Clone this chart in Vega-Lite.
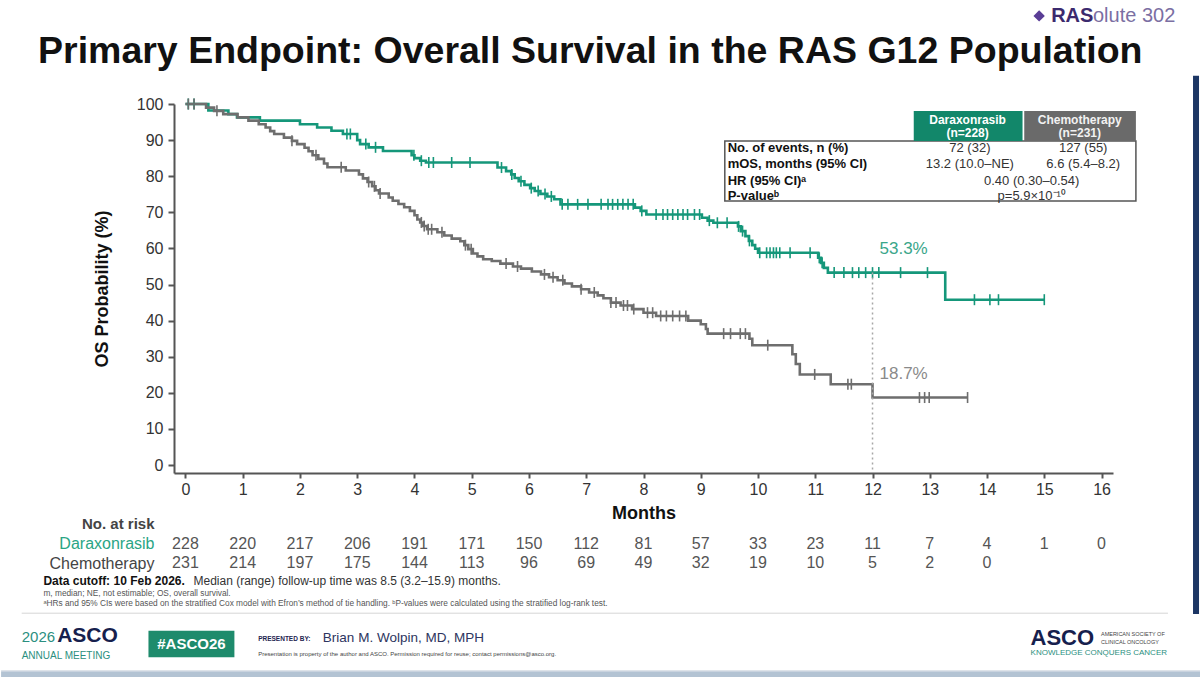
{
  "$schema": "https://vega.github.io/schema/vega-lite/v6.json",
  "background": "white",
  "padding": {"left": 0, "top": 5, "right": 0, "bottom": 0},
  "bounds": "flush",
  "spacing": 41,
  "config": {"font": "Liberation Sans", "view": {"stroke": null}, "text": {"font": "Liberation Sans"}},
  "datasets": {
    "km": [
      {"group": "Daraxonrasib", "month": 0, "surv": 100},
      {"group": "Daraxonrasib", "month": 0.4, "surv": 98.2},
      {"group": "Daraxonrasib", "month": 0.75, "surv": 97.2},
      {"group": "Daraxonrasib", "month": 0.9, "surv": 96.3},
      {"group": "Daraxonrasib", "month": 1.3, "surv": 95.4},
      {"group": "Daraxonrasib", "month": 2.0, "surv": 94.4},
      {"group": "Daraxonrasib", "month": 2.3, "surv": 93.5},
      {"group": "Daraxonrasib", "month": 2.55, "surv": 92.6},
      {"group": "Daraxonrasib", "month": 2.75, "surv": 91.7},
      {"group": "Daraxonrasib", "month": 3.0, "surv": 90.0},
      {"group": "Daraxonrasib", "month": 3.05, "surv": 88.9},
      {"group": "Daraxonrasib", "month": 3.2, "surv": 88.0},
      {"group": "Daraxonrasib", "month": 3.45, "surv": 87.0},
      {"group": "Daraxonrasib", "month": 3.95, "surv": 85.8},
      {"group": "Daraxonrasib", "month": 4.0, "surv": 85.0},
      {"group": "Daraxonrasib", "month": 4.1, "surv": 84.3},
      {"group": "Daraxonrasib", "month": 4.2, "surv": 83.8},
      {"group": "Daraxonrasib", "month": 5.45, "surv": 82.4},
      {"group": "Daraxonrasib", "month": 5.6, "surv": 81.4},
      {"group": "Daraxonrasib", "month": 5.69, "surv": 80.5},
      {"group": "Daraxonrasib", "month": 5.75, "surv": 79.5},
      {"group": "Daraxonrasib", "month": 5.82, "surv": 78.6},
      {"group": "Daraxonrasib", "month": 5.92, "surv": 77.6},
      {"group": "Daraxonrasib", "month": 6.02, "surv": 76.7},
      {"group": "Daraxonrasib", "month": 6.1, "surv": 75.9},
      {"group": "Daraxonrasib", "month": 6.2, "surv": 75.1},
      {"group": "Daraxonrasib", "month": 6.32, "surv": 74.4},
      {"group": "Daraxonrasib", "month": 6.44, "surv": 73.6},
      {"group": "Daraxonrasib", "month": 6.55, "surv": 72.2},
      {"group": "Daraxonrasib", "month": 7.85, "surv": 71.3},
      {"group": "Daraxonrasib", "month": 7.95, "surv": 70.4},
      {"group": "Daraxonrasib", "month": 8.05, "surv": 69.4},
      {"group": "Daraxonrasib", "month": 9.02, "surv": 68.5},
      {"group": "Daraxonrasib", "month": 9.12, "surv": 67.7},
      {"group": "Daraxonrasib", "month": 9.22, "surv": 67.1},
      {"group": "Daraxonrasib", "month": 9.65, "surv": 66.1},
      {"group": "Daraxonrasib", "month": 9.7, "surv": 64.8},
      {"group": "Daraxonrasib", "month": 9.78, "surv": 63.4},
      {"group": "Daraxonrasib", "month": 9.84, "surv": 62.1},
      {"group": "Daraxonrasib", "month": 9.9, "surv": 60.9},
      {"group": "Daraxonrasib", "month": 9.95, "surv": 59.9},
      {"group": "Daraxonrasib", "month": 10.0, "surv": 58.8},
      {"group": "Daraxonrasib", "month": 11.05, "surv": 57.4},
      {"group": "Daraxonrasib", "month": 11.1, "surv": 56.0},
      {"group": "Daraxonrasib", "month": 11.15, "surv": 54.6},
      {"group": "Daraxonrasib", "month": 11.22, "surv": 53.3},
      {"group": "Daraxonrasib", "month": 13.27, "surv": 45.8},
      {"group": "Daraxonrasib", "month": 15.0, "surv": 45.8},
      {"group": "Chemotherapy", "month": 0, "surv": 100},
      {"group": "Chemotherapy", "month": 0.36, "surv": 99.0},
      {"group": "Chemotherapy", "month": 0.5, "surv": 98.1},
      {"group": "Chemotherapy", "month": 0.66, "surv": 97.2},
      {"group": "Chemotherapy", "month": 0.91, "surv": 96.3},
      {"group": "Chemotherapy", "month": 1.1, "surv": 95.4},
      {"group": "Chemotherapy", "month": 1.28, "surv": 94.4},
      {"group": "Chemotherapy", "month": 1.4, "surv": 93.5},
      {"group": "Chemotherapy", "month": 1.48, "surv": 92.5},
      {"group": "Chemotherapy", "month": 1.55, "surv": 91.7},
      {"group": "Chemotherapy", "month": 1.72, "surv": 90.7},
      {"group": "Chemotherapy", "month": 1.86, "surv": 89.8},
      {"group": "Chemotherapy", "month": 1.95, "surv": 88.9},
      {"group": "Chemotherapy", "month": 2.08, "surv": 87.9},
      {"group": "Chemotherapy", "month": 2.15, "surv": 86.9},
      {"group": "Chemotherapy", "month": 2.22, "surv": 85.8},
      {"group": "Chemotherapy", "month": 2.32, "surv": 84.8},
      {"group": "Chemotherapy", "month": 2.42, "surv": 83.5},
      {"group": "Chemotherapy", "month": 2.48, "surv": 82.5},
      {"group": "Chemotherapy", "month": 2.8, "surv": 81.6},
      {"group": "Chemotherapy", "month": 3.03, "surv": 80.5},
      {"group": "Chemotherapy", "month": 3.1, "surv": 79.4},
      {"group": "Chemotherapy", "month": 3.18, "surv": 78.4},
      {"group": "Chemotherapy", "month": 3.26, "surv": 77.2},
      {"group": "Chemotherapy", "month": 3.32, "surv": 76.1},
      {"group": "Chemotherapy", "month": 3.38, "surv": 75.2},
      {"group": "Chemotherapy", "month": 3.55, "surv": 74.1},
      {"group": "Chemotherapy", "month": 3.62, "surv": 73.2},
      {"group": "Chemotherapy", "month": 3.72, "surv": 72.3},
      {"group": "Chemotherapy", "month": 3.82, "surv": 71.4},
      {"group": "Chemotherapy", "month": 3.92, "surv": 70.4},
      {"group": "Chemotherapy", "month": 4.0, "surv": 69.2},
      {"group": "Chemotherapy", "month": 4.05, "surv": 68.0},
      {"group": "Chemotherapy", "month": 4.1, "surv": 67.2},
      {"group": "Chemotherapy", "month": 4.15, "surv": 66.2},
      {"group": "Chemotherapy", "month": 4.22, "surv": 65.3},
      {"group": "Chemotherapy", "month": 4.4, "surv": 64.5},
      {"group": "Chemotherapy", "month": 4.52, "surv": 63.6},
      {"group": "Chemotherapy", "month": 4.65, "surv": 62.7},
      {"group": "Chemotherapy", "month": 4.8, "surv": 62.0},
      {"group": "Chemotherapy", "month": 4.87, "surv": 60.9},
      {"group": "Chemotherapy", "month": 4.94, "surv": 59.8},
      {"group": "Chemotherapy", "month": 5.02, "surv": 58.6},
      {"group": "Chemotherapy", "month": 5.1, "surv": 57.8},
      {"group": "Chemotherapy", "month": 5.2, "surv": 57.0},
      {"group": "Chemotherapy", "month": 5.35, "surv": 56.5},
      {"group": "Chemotherapy", "month": 5.5, "surv": 55.8},
      {"group": "Chemotherapy", "month": 5.72, "surv": 55.0},
      {"group": "Chemotherapy", "month": 5.86, "surv": 54.4},
      {"group": "Chemotherapy", "month": 6.05, "surv": 53.6},
      {"group": "Chemotherapy", "month": 6.21, "surv": 52.8},
      {"group": "Chemotherapy", "month": 6.35, "surv": 52.0},
      {"group": "Chemotherapy", "month": 6.5, "surv": 51.2},
      {"group": "Chemotherapy", "month": 6.62, "surv": 50.3},
      {"group": "Chemotherapy", "month": 6.75, "surv": 49.5},
      {"group": "Chemotherapy", "month": 6.91, "surv": 48.7},
      {"group": "Chemotherapy", "month": 7.05, "surv": 47.8},
      {"group": "Chemotherapy", "month": 7.2, "surv": 47.0},
      {"group": "Chemotherapy", "month": 7.3, "surv": 46.2},
      {"group": "Chemotherapy", "month": 7.43, "surv": 45.0},
      {"group": "Chemotherapy", "month": 7.6, "surv": 44.2},
      {"group": "Chemotherapy", "month": 7.8, "surv": 43.2},
      {"group": "Chemotherapy", "month": 8.0, "surv": 42.2},
      {"group": "Chemotherapy", "month": 8.22, "surv": 41.3},
      {"group": "Chemotherapy", "month": 8.78, "surv": 40.0},
      {"group": "Chemotherapy", "month": 9.0, "surv": 39.0},
      {"group": "Chemotherapy", "month": 9.09, "surv": 37.7},
      {"group": "Chemotherapy", "month": 9.12, "surv": 36.4},
      {"group": "Chemotherapy", "month": 9.85, "surv": 35.0},
      {"group": "Chemotherapy", "month": 9.9, "surv": 33.2},
      {"group": "Chemotherapy", "month": 10.6, "surv": 30.7},
      {"group": "Chemotherapy", "month": 10.66, "surv": 28.0},
      {"group": "Chemotherapy", "month": 10.73, "surv": 25.1},
      {"group": "Chemotherapy", "month": 11.27, "surv": 22.4},
      {"group": "Chemotherapy", "month": 12.0, "surv": 18.7},
      {"group": "Chemotherapy", "month": 13.66, "surv": 18.7}
    ],
    "censor": [
      {"group": "Daraxonrasib", "month": 0.05, "surv": 100},
      {"group": "Daraxonrasib", "month": 0.15, "surv": 100},
      {"group": "Daraxonrasib", "month": 2.82, "surv": 91.7},
      {"group": "Daraxonrasib", "month": 2.88, "surv": 91.7},
      {"group": "Daraxonrasib", "month": 3.15, "surv": 88.9},
      {"group": "Daraxonrasib", "month": 3.32, "surv": 88.0},
      {"group": "Daraxonrasib", "month": 3.99, "surv": 85.8},
      {"group": "Daraxonrasib", "month": 4.12, "surv": 84.3},
      {"group": "Daraxonrasib", "month": 4.25, "surv": 83.8},
      {"group": "Daraxonrasib", "month": 4.33, "surv": 83.8},
      {"group": "Daraxonrasib", "month": 4.65, "surv": 83.8},
      {"group": "Daraxonrasib", "month": 4.97, "surv": 83.8},
      {"group": "Daraxonrasib", "month": 5.52, "surv": 82.4},
      {"group": "Daraxonrasib", "month": 5.7, "surv": 80.5},
      {"group": "Daraxonrasib", "month": 5.86, "surv": 78.6},
      {"group": "Daraxonrasib", "month": 6.04, "surv": 76.7},
      {"group": "Daraxonrasib", "month": 6.16, "surv": 75.9},
      {"group": "Daraxonrasib", "month": 6.28, "surv": 75.1},
      {"group": "Daraxonrasib", "month": 6.39, "surv": 74.4},
      {"group": "Daraxonrasib", "month": 6.58, "surv": 72.2},
      {"group": "Daraxonrasib", "month": 6.68, "surv": 72.2},
      {"group": "Daraxonrasib", "month": 6.85, "surv": 72.2},
      {"group": "Daraxonrasib", "month": 7.03, "surv": 72.2},
      {"group": "Daraxonrasib", "month": 7.26, "surv": 72.2},
      {"group": "Daraxonrasib", "month": 7.38, "surv": 72.2},
      {"group": "Daraxonrasib", "month": 7.46, "surv": 72.2},
      {"group": "Daraxonrasib", "month": 7.55, "surv": 72.2},
      {"group": "Daraxonrasib", "month": 7.64, "surv": 72.2},
      {"group": "Daraxonrasib", "month": 7.73, "surv": 72.2},
      {"group": "Daraxonrasib", "month": 7.82, "surv": 72.2},
      {"group": "Daraxonrasib", "month": 7.97, "surv": 70.4},
      {"group": "Daraxonrasib", "month": 8.22, "surv": 69.4},
      {"group": "Daraxonrasib", "month": 8.34, "surv": 69.4},
      {"group": "Daraxonrasib", "month": 8.42, "surv": 69.4},
      {"group": "Daraxonrasib", "month": 8.51, "surv": 69.4},
      {"group": "Daraxonrasib", "month": 8.6, "surv": 69.4},
      {"group": "Daraxonrasib", "month": 8.69, "surv": 69.4},
      {"group": "Daraxonrasib", "month": 8.77, "surv": 69.4},
      {"group": "Daraxonrasib", "month": 8.89, "surv": 69.4},
      {"group": "Daraxonrasib", "month": 8.98, "surv": 69.4},
      {"group": "Daraxonrasib", "month": 9.15, "surv": 67.7},
      {"group": "Daraxonrasib", "month": 9.29, "surv": 67.1},
      {"group": "Daraxonrasib", "month": 9.46, "surv": 67.1},
      {"group": "Daraxonrasib", "month": 9.66, "surv": 66.1},
      {"group": "Daraxonrasib", "month": 9.73, "surv": 64.8},
      {"group": "Daraxonrasib", "month": 9.85, "surv": 62.1},
      {"group": "Daraxonrasib", "month": 10.03, "surv": 58.8},
      {"group": "Daraxonrasib", "month": 10.15, "surv": 58.8},
      {"group": "Daraxonrasib", "month": 10.21, "surv": 58.8},
      {"group": "Daraxonrasib", "month": 10.27, "surv": 58.8},
      {"group": "Daraxonrasib", "month": 10.32, "surv": 58.8},
      {"group": "Daraxonrasib", "month": 10.38, "surv": 58.8},
      {"group": "Daraxonrasib", "month": 10.56, "surv": 58.8},
      {"group": "Daraxonrasib", "month": 10.91, "surv": 58.8},
      {"group": "Daraxonrasib", "month": 11.07, "surv": 57.4},
      {"group": "Daraxonrasib", "month": 11.12, "surv": 56.0},
      {"group": "Daraxonrasib", "month": 11.33, "surv": 53.3},
      {"group": "Daraxonrasib", "month": 11.5, "surv": 53.3},
      {"group": "Daraxonrasib", "month": 11.65, "surv": 53.3},
      {"group": "Daraxonrasib", "month": 11.76, "surv": 53.3},
      {"group": "Daraxonrasib", "month": 11.88, "surv": 53.3},
      {"group": "Daraxonrasib", "month": 12.0, "surv": 53.3},
      {"group": "Daraxonrasib", "month": 12.11, "surv": 53.3},
      {"group": "Daraxonrasib", "month": 12.49, "surv": 53.3},
      {"group": "Daraxonrasib", "month": 12.96, "surv": 53.3},
      {"group": "Daraxonrasib", "month": 13.78, "surv": 45.8},
      {"group": "Daraxonrasib", "month": 14.05, "surv": 45.8},
      {"group": "Daraxonrasib", "month": 14.2, "surv": 45.8},
      {"group": "Daraxonrasib", "month": 15.0, "surv": 45.8},
      {"group": "Chemotherapy", "month": 0.05, "surv": 100},
      {"group": "Chemotherapy", "month": 0.15, "surv": 100},
      {"group": "Chemotherapy", "month": 0.55, "surv": 98.1},
      {"group": "Chemotherapy", "month": 1.86, "surv": 89.8},
      {"group": "Chemotherapy", "month": 2.28, "surv": 85.8},
      {"group": "Chemotherapy", "month": 2.72, "surv": 82.5},
      {"group": "Chemotherapy", "month": 3.2, "surv": 78.4},
      {"group": "Chemotherapy", "month": 3.3, "surv": 77.2},
      {"group": "Chemotherapy", "month": 3.4, "surv": 75.2},
      {"group": "Chemotherapy", "month": 4.12, "surv": 67.2},
      {"group": "Chemotherapy", "month": 4.17, "surv": 66.2},
      {"group": "Chemotherapy", "month": 4.24, "surv": 65.3},
      {"group": "Chemotherapy", "month": 4.3, "surv": 65.3},
      {"group": "Chemotherapy", "month": 4.48, "surv": 64.5},
      {"group": "Chemotherapy", "month": 4.89, "surv": 60.9},
      {"group": "Chemotherapy", "month": 4.99, "surv": 59.8},
      {"group": "Chemotherapy", "month": 5.6, "surv": 55.8},
      {"group": "Chemotherapy", "month": 5.8, "surv": 55.0},
      {"group": "Chemotherapy", "month": 6.27, "surv": 52.8},
      {"group": "Chemotherapy", "month": 6.42, "surv": 52.0},
      {"group": "Chemotherapy", "month": 6.59, "surv": 51.2},
      {"group": "Chemotherapy", "month": 6.91, "surv": 48.7},
      {"group": "Chemotherapy", "month": 7.14, "surv": 47.8},
      {"group": "Chemotherapy", "month": 7.43, "surv": 45.0},
      {"group": "Chemotherapy", "month": 7.52, "surv": 45.0},
      {"group": "Chemotherapy", "month": 7.65, "surv": 44.2},
      {"group": "Chemotherapy", "month": 7.72, "surv": 44.2},
      {"group": "Chemotherapy", "month": 7.83, "surv": 43.2},
      {"group": "Chemotherapy", "month": 8.07, "surv": 42.2},
      {"group": "Chemotherapy", "month": 8.16, "surv": 42.2},
      {"group": "Chemotherapy", "month": 8.3, "surv": 41.3},
      {"group": "Chemotherapy", "month": 8.4, "surv": 41.3},
      {"group": "Chemotherapy", "month": 8.51, "surv": 41.3},
      {"group": "Chemotherapy", "month": 8.63, "surv": 41.3},
      {"group": "Chemotherapy", "month": 8.74, "surv": 41.3},
      {"group": "Chemotherapy", "month": 9.4, "surv": 36.4},
      {"group": "Chemotherapy", "month": 9.52, "surv": 36.4},
      {"group": "Chemotherapy", "month": 9.69, "surv": 36.4},
      {"group": "Chemotherapy", "month": 9.78, "surv": 36.4},
      {"group": "Chemotherapy", "month": 10.17, "surv": 33.2},
      {"group": "Chemotherapy", "month": 10.99, "surv": 25.1},
      {"group": "Chemotherapy", "month": 11.57, "surv": 22.4},
      {"group": "Chemotherapy", "month": 11.63, "surv": 22.4},
      {"group": "Chemotherapy", "month": 12.82, "surv": 18.7},
      {"group": "Chemotherapy", "month": 12.91, "surv": 18.7},
      {"group": "Chemotherapy", "month": 12.99, "surv": 18.7},
      {"group": "Chemotherapy", "month": 13.66, "surv": 18.7}
    ],
    "landmark": [
      {"group": "Daraxonrasib", "month": 12, "surv": 53.3, "label": "53.3%"},
      {"group": "Chemotherapy", "month": 12, "surv": 18.7, "label": "18.7%"}
    ],
    "arms": [
      {"group": "Daraxonrasib", "n_label": "(n=228)"},
      {"group": "Chemotherapy", "n_label": "(n=231)"}
    ],
    "stats": [
      {"key": "events", "stat": "No. of events, n (%)", "Daraxonrasib": "72 (32)", "Chemotherapy": "127 (55)"},
      {"key": "mos", "stat": "mOS, months (95% CI)", "Daraxonrasib": "13.2 (10.0–NE)", "Chemotherapy": "6.6 (5.4–8.2)"},
      {"key": "hr", "stat": "HR (95% CI)ᵃ", "overall": "0.40 (0.30–0.54)"},
      {"key": "p", "stat": "P-valueᵇ", "overall": "p=5.9×10⁻¹⁰"}
    ],
    "risk": [
      {"group": "Daraxonrasib", "month": 0, "n": 228},
      {"group": "Daraxonrasib", "month": 1, "n": 220},
      {"group": "Daraxonrasib", "month": 2, "n": 217},
      {"group": "Daraxonrasib", "month": 3, "n": 206},
      {"group": "Daraxonrasib", "month": 4, "n": 191},
      {"group": "Daraxonrasib", "month": 5, "n": 171},
      {"group": "Daraxonrasib", "month": 6, "n": 150},
      {"group": "Daraxonrasib", "month": 7, "n": 112},
      {"group": "Daraxonrasib", "month": 8, "n": 81},
      {"group": "Daraxonrasib", "month": 9, "n": 57},
      {"group": "Daraxonrasib", "month": 10, "n": 33},
      {"group": "Daraxonrasib", "month": 11, "n": 23},
      {"group": "Daraxonrasib", "month": 12, "n": 11},
      {"group": "Daraxonrasib", "month": 13, "n": 7},
      {"group": "Daraxonrasib", "month": 14, "n": 4},
      {"group": "Daraxonrasib", "month": 15, "n": 1},
      {"group": "Daraxonrasib", "month": 16, "n": 0},
      {"group": "Chemotherapy", "month": 0, "n": 231},
      {"group": "Chemotherapy", "month": 1, "n": 214},
      {"group": "Chemotherapy", "month": 2, "n": 197},
      {"group": "Chemotherapy", "month": 3, "n": 175},
      {"group": "Chemotherapy", "month": 4, "n": 144},
      {"group": "Chemotherapy", "month": 5, "n": 113},
      {"group": "Chemotherapy", "month": 6, "n": 96},
      {"group": "Chemotherapy", "month": 7, "n": 69},
      {"group": "Chemotherapy", "month": 8, "n": 49},
      {"group": "Chemotherapy", "month": 9, "n": 32},
      {"group": "Chemotherapy", "month": 10, "n": 19},
      {"group": "Chemotherapy", "month": 11, "n": 10},
      {"group": "Chemotherapy", "month": 12, "n": 5},
      {"group": "Chemotherapy", "month": 13, "n": 2},
      {"group": "Chemotherapy", "month": 14, "n": 0}
    ]
  },
  "vconcat": [
    {
      "width": 939,
      "height": 369,
      "layer": [
        {
          "data": {"name": "km"},
          "mark": {"type": "line", "interpolate": "step-after", "strokeWidth": 2.6},
          "encoding": {
            "x": {"field": "month", "type": "quantitative",
              "scale": {"domain": [-0.2, 16.2], "nice": false, "zero": false},
              "axis": {"values": [0,1,2,3,4,5,6,7,8,9,10,11,12,13,14,15,16], "format": "d", "labelOverlap": false, "title": "Months", "titleFontSize": 18, "titleFontWeight": "bold", "titleColor": "#111", "titlePadding": 7, "labelFontSize": 16, "labelColor": "#333", "labelPadding": 3, "tickSize": 5, "tickWidth": 2, "tickColor": "#555", "domainColor": "#555", "domainWidth": 2, "grid": false, "labelFlush": false}},
            "y": {"field": "surv", "type": "quantitative",
              "scale": {"domain": [-2.2, 100], "nice": false, "zero": false},
              "axis": {"values": [0,10,20,30,40,50,60,70,80,90,100], "format": "d", "labelOverlap": false, "tickCount": 11, "title": "OS Probability (%)", "titleFontSize": 18, "titleFontWeight": "bold", "titleColor": "#111", "titlePadding": 25, "labelFontSize": 16, "labelColor": "#333", "labelPadding": 5, "tickSize": 6, "tickWidth": 2, "tickColor": "#555", "domainColor": "#555", "domainWidth": 2, "grid": false}},
            "color": {"field": "group", "type": "nominal", "scale": {"domain": ["Daraxonrasib", "Chemotherapy"], "range": ["#15977a", "#6e6e6e"]}, "legend": null}
          }
        },
        {
          "data": {"name": "censor"},
          "mark": {"type": "tick", "orient": "vertical", "size": 11, "thickness": 1.6, "opacity": 1},
          "encoding": {
            "x": {"field": "month", "type": "quantitative"},
            "y": {"field": "surv", "type": "quantitative"},
            "color": {"field": "group", "type": "nominal", "legend": null}
          }
        },
        {
          "data": {"name": "landmark"},
          "transform": [{"filter": "datum.group === 'Daraxonrasib'"}],
          "mark": {"type": "rule", "strokeDash": [2, 3], "color": "#a8a8a8", "strokeWidth": 1.5},
          "encoding": {
            "x": {"field": "month", "type": "quantitative"},
            "y": {"field": "surv", "type": "quantitative"},
            "y2": {"datum": -2.2}
          }
        },
        {
          "data": {"name": "landmark"},
          "mark": {"type": "text", "align": "left", "baseline": "middle", "dx": 7, "dy": -24, "fontSize": 17},
          "encoding": {
            "x": {"field": "month", "type": "quantitative"},
            "y": {"field": "surv", "type": "quantitative"},
            "text": {"field": "label", "type": "nominal"},
            "color": {"condition": {"test": "datum.group === 'Daraxonrasib'", "value": "#3aa68a"}, "value": "#8a8a8a"}
          }
        },
        {
          "data": {"values": [{}]},
          "mark": {"type": "rect", "fill": "white", "stroke": "#555", "strokeWidth": 1.5},
          "encoding": {"x": {"datum": 9.42, "type": "quantitative"}, "x2": {"datum": 16.6}, "y": {"datum": 89.75, "type": "quantitative"}, "y2": {"datum": 73.13}}
        },
        {
          "data": {"values": [{}]},
          "mark": {"type": "rect", "fill": "#12876a"},
          "encoding": {"x": {"datum": 12.72, "type": "quantitative"}, "x2": {"datum": 14.62}, "y": {"datum": 98.06, "type": "quantitative"}, "y2": {"datum": 89.75}}
        },
        {
          "data": {"values": [{}]},
          "mark": {"type": "rect", "fill": "#6a6a6a"},
          "encoding": {"x": {"datum": 14.65, "type": "quantitative"}, "x2": {"datum": 16.6}, "y": {"datum": 98.06, "type": "quantitative"}, "y2": {"datum": 89.75}}
        },
        {
          "data": {"name": "arms"},
          "transform": [{"filter": "datum.group === 'Daraxonrasib'"}],
          "encoding": {"x": {"datum": 13.66, "type": "quantitative"}},
          "layer": [
            {"mark": {"type": "text", "align": "center", "baseline": "middle", "fontSize": 12, "fontWeight": "bold", "color": "white"}, "encoding": {"y": {"datum": 95.7, "type": "quantitative"}, "text": {"field": "group", "type": "nominal"}}},
            {"mark": {"type": "text", "align": "center", "baseline": "middle", "fontSize": 12, "fontWeight": "bold", "color": "white"}, "encoding": {"y": {"datum": 91.9, "type": "quantitative"}, "text": {"field": "n_label", "type": "nominal"}}}
          ]
        },
        {
          "data": {"name": "arms"},
          "transform": [{"filter": "datum.group === 'Chemotherapy'"}],
          "encoding": {"x": {"datum": 15.62, "type": "quantitative"}},
          "layer": [
            {"mark": {"type": "text", "align": "center", "baseline": "middle", "fontSize": 12, "fontWeight": "bold", "color": "#f2f2f2"}, "encoding": {"y": {"datum": 95.7, "type": "quantitative"}, "text": {"field": "group", "type": "nominal"}}},
            {"mark": {"type": "text", "align": "center", "baseline": "middle", "fontSize": 12, "fontWeight": "bold", "color": "#f2f2f2"}, "encoding": {"y": {"datum": 91.9, "type": "quantitative"}, "text": {"field": "n_label", "type": "nominal"}}}
          ]
        },
        {
          "data": {"name": "stats"},
          "transform": [{"filter": "datum.key === 'events'"}],
          "encoding": {"y": {"datum": 87.9, "type": "quantitative"}},
          "layer": [
            {"mark": {"type": "text", "align": "left", "baseline": "middle", "fontSize": 13, "fontWeight": "bold", "color": "#111"}, "encoding": {"x": {"datum": 9.47, "type": "quantitative"}, "text": {"field": "stat", "type": "nominal"}}},
            {"mark": {"type": "text", "align": "center", "baseline": "middle", "fontSize": 13, "color": "#333"}, "encoding": {"x": {"datum": 13.7, "type": "quantitative"}, "text": {"field": "Daraxonrasib", "type": "nominal"}}},
            {"mark": {"type": "text", "align": "center", "baseline": "middle", "fontSize": 13, "color": "#333"}, "encoding": {"x": {"datum": 15.68, "type": "quantitative"}, "text": {"field": "Chemotherapy", "type": "nominal"}}}
          ]
        },
        {
          "data": {"name": "stats"},
          "transform": [{"filter": "datum.key === 'mos'"}],
          "encoding": {"y": {"datum": 83.3, "type": "quantitative"}},
          "layer": [
            {"mark": {"type": "text", "align": "left", "baseline": "middle", "fontSize": 13, "fontWeight": "bold", "color": "#111"}, "encoding": {"x": {"datum": 9.47, "type": "quantitative"}, "text": {"field": "stat", "type": "nominal"}}},
            {"mark": {"type": "text", "align": "center", "baseline": "middle", "fontSize": 13, "color": "#333"}, "encoding": {"x": {"datum": 13.7, "type": "quantitative"}, "text": {"field": "Daraxonrasib", "type": "nominal"}}},
            {"mark": {"type": "text", "align": "center", "baseline": "middle", "fontSize": 13, "color": "#333"}, "encoding": {"x": {"datum": 15.68, "type": "quantitative"}, "text": {"field": "Chemotherapy", "type": "nominal"}}}
          ]
        },
        {
          "data": {"name": "stats"},
          "transform": [{"filter": "datum.key === 'hr'"}],
          "encoding": {"y": {"datum": 78.7, "type": "quantitative"}},
          "layer": [
            {"mark": {"type": "text", "align": "left", "baseline": "middle", "fontSize": 13, "fontWeight": "bold", "color": "#111"}, "encoding": {"x": {"datum": 9.47, "type": "quantitative"}, "text": {"field": "stat", "type": "nominal"}}},
            {"mark": {"type": "text", "align": "center", "baseline": "middle", "fontSize": 13, "color": "#333"}, "encoding": {"x": {"datum": 14.78, "type": "quantitative"}, "text": {"field": "overall", "type": "nominal"}}}
          ]
        },
        {
          "data": {"name": "stats"},
          "transform": [{"filter": "datum.key === 'p'"}],
          "encoding": {"y": {"datum": 74.5, "type": "quantitative"}},
          "layer": [
            {"mark": {"type": "text", "align": "left", "baseline": "middle", "fontSize": 13, "fontWeight": "bold", "color": "#111"}, "encoding": {"x": {"datum": 9.47, "type": "quantitative"}, "text": {"field": "stat", "type": "nominal"}}},
            {"mark": {"type": "text", "align": "center", "baseline": "middle", "fontSize": 13, "color": "#333"}, "encoding": {"x": {"datum": 14.78, "type": "quantitative"}, "text": {"field": "overall", "type": "nominal"}}}
          ]
        },
        {
          "data": {"values": [{}]},
          "mark": {"type": "text", "align": "center", "baseline": "alphabetic", "fontSize": 37.5, "fontWeight": "bold", "color": "#111"},
          "encoding": {"x": {"datum": 7.07, "type": "quantitative"}, "y": {"datum": 111.4, "type": "quantitative"}, "text": {"value": "Primary Endpoint: Overall Survival in the RAS G12 Population"}}
        },
        {
          "data": {"values": [{}]},
          "mark": {"type": "point", "shape": "diamond", "filled": true, "size": 130, "color": "#5a3d96", "opacity": 1},
          "encoding": {"x": {"datum": 14.91, "type": "quantitative"}, "y": {"datum": 124.4, "type": "quantitative"}}
        },
        {
          "data": {"values": [{}]},
          "mark": {"type": "text", "align": "left", "baseline": "middle", "fontSize": 20, "fontWeight": "bold", "color": "#3b2a6e"},
          "encoding": {"x": {"datum": 15.12, "type": "quantitative"}, "y": {"datum": 124.4, "type": "quantitative"}, "text": {"value": "RAS"}}
        },
        {
          "data": {"values": [{}]},
          "mark": {"type": "text", "align": "left", "baseline": "middle", "fontSize": 20, "color": "#7b6fa3"},
          "encoding": {"x": {"datum": 15.85, "type": "quantitative"}, "y": {"datum": 124.4, "type": "quantitative"}, "text": {"value": "olute 302"}}
        },
        {
          "data": {"values": [{}]},
          "mark": {"type": "rule", "color": "#1c3664", "strokeWidth": 6},
          "encoding": {"x": {"datum": 17.65, "type": "quantitative"}, "y": {"datum": 107.8, "type": "quantitative"}, "y2": {"datum": -41.25}}
        }
      ]
    },
    {
      "width": 939,
      "height": 59,
      "data": {"name": "risk"},
      "mark": {"type": "text", "fontSize": 16, "color": "#555", "baseline": "middle"},
      "encoding": {
        "x": {"field": "month", "type": "quantitative", "scale": {"domain": [-0.2, 16.2], "nice": false, "zero": false}, "axis": null},
        "y": {"field": "group", "type": "nominal",
          "scale": {"type": "point", "domain": ["No. at risk", "Daraxonrasib", "Chemotherapy"], "padding": 0.5},
          "axis": {"title": null, "domain": false, "ticks": false, "labelPadding": 20,
            "labelFontSize": {"condition": {"test": "datum.value === 'No. at risk'", "value": 15}, "value": 16},
            "labelFontWeight": {"condition": {"test": "datum.value === 'No. at risk'", "value": "bold"}, "value": "normal"},
            "labelColor": {"condition": {"test": "datum.value === 'Daraxonrasib'", "value": "#2aa585"}, "value": "#444"}}},
        "text": {"field": "n", "type": "quantitative"}
      }
    },
    {
      "width": 939,
      "height": 64,
      "data": {"values": [{}]},
      "layer": [
        {
          "mark": {"type": "rect", "fill": "#b3c3d3"},
          "encoding": {
            "x": {"datum": -3.22, "type": "quantitative", "scale": {"domain": [-0.2, 16.2], "nice": false, "zero": false}, "axis": null},
            "x2": {"datum": 17.74},
            "y": {"datum": 7.15, "type": "quantitative", "scale": {"domain": [0, 8], "reverse": true, "nice": false, "zero": false}, "axis": null},
            "y2": {"datum": 8}
          }
        },
        {
          "mark": {"type": "rule", "color": "#d0d8e0", "strokeWidth": 1},
          "encoding": {"x": {"datum": -3.22, "type": "quantitative", "axis": null}, "x2": {"datum": 17.74}, "y": {"datum": 7.1, "type": "quantitative", "axis": null}}
        },
        {
          "mark": {"type": "text", "align": "left", "baseline": "middle", "fontSize": 12, "fontWeight": "bold", "color": "#111"},
          "encoding": {"x": {"datum": -2.48, "type": "quantitative", "axis": null}, "y": {"datum": -4.1, "type": "quantitative", "axis": null}, "text": {"value": "Data cutoff: 10 Feb 2026."}}
        },
        {
          "mark": {"type": "text", "align": "left", "baseline": "middle", "fontSize": 12, "color": "#333"},
          "encoding": {"x": {"datum": 0.14, "type": "quantitative", "axis": null}, "y": {"datum": -4.1, "type": "quantitative", "axis": null}, "text": {"value": "Median (range) follow-up time was 8.5 (3.2–15.9) months."}}
        },
        {
          "mark": {"type": "text", "align": "left", "baseline": "middle", "fontSize": 8.3, "color": "#555"},
          "encoding": {"x": {"datum": -2.48, "type": "quantitative", "axis": null}, "y": {"datum": -2.45, "type": "quantitative", "axis": null}, "text": {"value": "m, median; NE, not estimable; OS, overall survival."}}
        },
        {
          "mark": {"type": "text", "align": "left", "baseline": "middle", "fontSize": 8.3, "color": "#555"},
          "encoding": {"x": {"datum": -2.48, "type": "quantitative", "axis": null}, "y": {"datum": -1.2, "type": "quantitative", "axis": null}, "text": {"value": "ᵃHRs and 95% CIs were based on the stratified Cox model with Efron’s method of tie handling. ᵇP-values were calculated using the stratified log-rank test."}}
        },
        {
          "mark": {"type": "rule", "color": "#d5d5d5", "strokeWidth": 1},
          "encoding": {"x": {"datum": -2.86, "type": "quantitative", "axis": null}, "x2": {"datum": 17.16}, "y": {"datum": -0.1, "type": "quantitative", "axis": null}}
        },
        {
          "mark": {"type": "text", "align": "left", "baseline": "middle", "fontSize": 15, "color": "#2b8f80"},
          "encoding": {"x": {"datum": -2.86, "type": "quantitative", "axis": null}, "y": {"datum": 2.9, "type": "quantitative", "axis": null}, "text": {"value": "2026"}}
        },
        {
          "mark": {"type": "text", "align": "left", "baseline": "middle", "fontSize": 21, "fontWeight": "bold", "color": "#16204d"},
          "encoding": {"x": {"datum": -2.24, "type": "quantitative", "axis": null}, "y": {"datum": 2.8, "type": "quantitative", "axis": null}, "text": {"value": "ASCO"}}
        },
        {
          "mark": {"type": "text", "align": "left", "baseline": "middle", "fontSize": 10, "color": "#2b8f80"},
          "encoding": {"x": {"datum": -2.86, "type": "quantitative", "axis": null}, "y": {"datum": 5.25, "type": "quantitative", "axis": null}, "text": {"value": "ANNUAL MEETING"}}
        },
        {
          "mark": {"type": "rect", "fill": "#1e8b6c"},
          "encoding": {"x": {"datum": -0.646, "type": "quantitative", "axis": null}, "x2": {"datum": 0.855}, "y": {"datum": 2.1, "type": "quantitative", "axis": null}, "y2": {"datum": 5.4}}
        },
        {
          "mark": {"type": "text", "align": "center", "baseline": "middle", "fontSize": 15, "fontWeight": "bold", "color": "white"},
          "encoding": {"x": {"datum": 0.105, "type": "quantitative", "axis": null}, "y": {"datum": 3.75, "type": "quantitative", "axis": null}, "text": {"value": "#ASCO26"}}
        },
        {
          "mark": {"type": "text", "align": "left", "baseline": "middle", "fontSize": 6.5, "fontWeight": "bold", "color": "#1d2550"},
          "encoding": {"x": {"datum": 1.27, "type": "quantitative", "axis": null}, "y": {"datum": 3.1, "type": "quantitative", "axis": null}, "text": {"value": "PRESENTED BY:"}}
        },
        {
          "mark": {"type": "text", "align": "left", "baseline": "middle", "fontSize": 13.5, "color": "#2d3560"},
          "encoding": {"x": {"datum": 2.4, "type": "quantitative", "axis": null}, "y": {"datum": 3.05, "type": "quantitative", "axis": null}, "text": {"value": "Brian M. Wolpin, MD, MPH"}}
        },
        {
          "mark": {"type": "text", "align": "left", "baseline": "middle", "fontSize": 6, "color": "#444"},
          "encoding": {"x": {"datum": 1.27, "type": "quantitative", "axis": null}, "y": {"datum": 5.0, "type": "quantitative", "axis": null}, "text": {"value": "Presentation is property of the author and ASCO. Permission required for reuse; contact permissions@asco.org."}}
        },
        {
          "mark": {"type": "text", "align": "left", "baseline": "middle", "fontSize": 22, "fontWeight": "bold", "color": "#16204d"},
          "encoding": {"x": {"datum": 14.76, "type": "quantitative", "axis": null}, "y": {"datum": 3.0, "type": "quantitative", "axis": null}, "text": {"value": "ASCO"}}
        },
        {
          "mark": {"type": "text", "align": "left", "baseline": "middle", "fontSize": 5.5, "color": "#444"},
          "encoding": {"x": {"datum": 15.99, "type": "quantitative", "axis": null}, "y": {"datum": 2.5, "type": "quantitative", "axis": null}, "text": {"value": "AMERICAN SOCIETY OF"}}
        },
        {
          "mark": {"type": "text", "align": "left", "baseline": "middle", "fontSize": 5.5, "color": "#444"},
          "encoding": {"x": {"datum": 15.99, "type": "quantitative", "axis": null}, "y": {"datum": 3.5, "type": "quantitative", "axis": null}, "text": {"value": "CLINICAL ONCOLOGY"}}
        },
        {
          "mark": {"type": "text", "align": "left", "baseline": "middle", "fontSize": 8, "color": "#2b8f80"},
          "encoding": {"x": {"datum": 14.76, "type": "quantitative", "axis": null}, "y": {"datum": 4.9, "type": "quantitative", "axis": null}, "text": {"value": "KNOWLEDGE CONQUERS CANCER"}}
        }
      ]
    }
  ]
}
